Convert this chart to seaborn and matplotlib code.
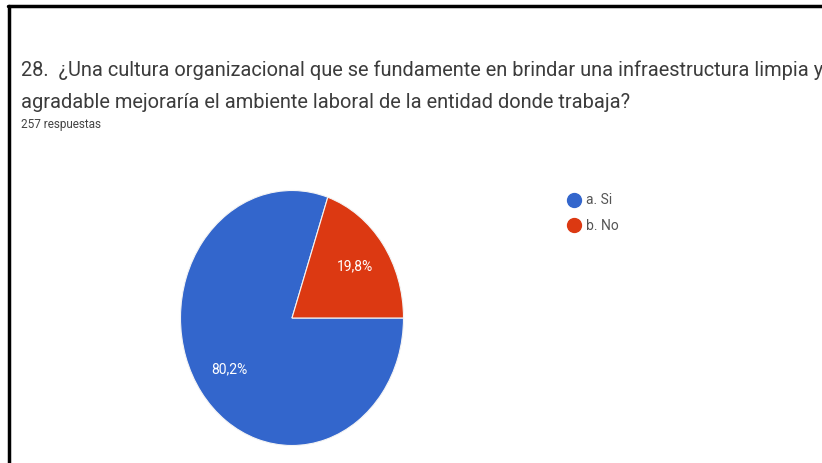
import numpy as np
import matplotlib
matplotlib.use("Agg")
import matplotlib.pyplot as plt
import seaborn as sns
from matplotlib.lines import Line2D

# Survey answers for question 28
categories = ["a. Si", "b. No"]
percentages = [80.2, 19.8]
pct_labels = ["80,2%", "19,8%"]
title_line1 = "28.  ¿Una cultura organizacional que se fundamente en brindar una infraestructura limpia y"
title_line2 = "agradable mejoraría el ambiente laboral de la entidad donde trabaja?"
responses = "257 respuestas"

sns.set_theme(style="white")
plt.rcParams["font.family"] = ["Roboto", "DejaVu Sans"]
colors = ["#3366cc", "#dc3912"]

W, H = 822, 463
fig = plt.figure(figsize=(W / 100, H / 100), dpi=100)
fig.patch.set_facecolor("white")

# Pie axes (slightly taller than wide)
cx, cy, rx, ry = 292, 318, 111.5, 127.5
ax = fig.add_axes([(cx - rx) / W, (H - cy - ry) / H, 2 * rx / W, 2 * ry / H])
start = 360 * percentages[1] / sum(percentages)
wedges, _ = ax.pie(percentages, colors=colors, startangle=start, counterclock=True,
                   radius=1.0, wedgeprops=dict(edgecolor="#f4f4f4", linewidth=0.8))
ax.set_aspect("auto")
ax.set_xlim(-1, 1)
ax.set_ylim(-1, 1)
ax.axis("off")

# Percentage labels inside the slices
label_r = 0.69
for w, lab in zip(wedges, pct_labels):
    mid = np.deg2rad((w.theta1 + w.theta2) / 2)
    ax.text(label_r * np.cos(mid), label_r * np.sin(mid), lab, color="white",
            fontsize=10, ha="center", va="center")

# Title and subtitle
fig.text(21 / W, 1 - 70 / H, title_line1, fontsize=14.4, color="#3c3c3c",
         ha="left", va="center")
fig.text(21 / W, 1 - 103 / H, title_line2, fontsize=14.4, color="#3c3c3c",
         ha="left", va="center")
fig.text(21 / W, 1 - 125 / H, responses, fontsize=8.5, color="#444444",
         ha="left", va="center")

# Legend
handles = [Line2D([0], [0], marker="o", linestyle="none", markersize=10,
                  markerfacecolor=c, markeredgecolor=c) for c in colors]
fig.legend(handles, categories, loc="upper left",
           bbox_to_anchor=(555 / W, 1 - 181 / H), frameon=False,
           fontsize=10, labelcolor="#555555", handletextpad=0.3,
           labelspacing=0.85, handlelength=1.0)

# Frame lines on the left and top
fig.add_artist(Line2D([9 / W, 9 / W], [0, 1 - 6 / H], color="black", linewidth=2.5,
                      transform=fig.transFigure))
fig.add_artist(Line2D([8 / W, 1], [1 - 6 / H, 1 - 6 / H], color="black", linewidth=2.5,
                      transform=fig.transFigure))

fig.savefig("out.png", dpi=100, facecolor="white")
